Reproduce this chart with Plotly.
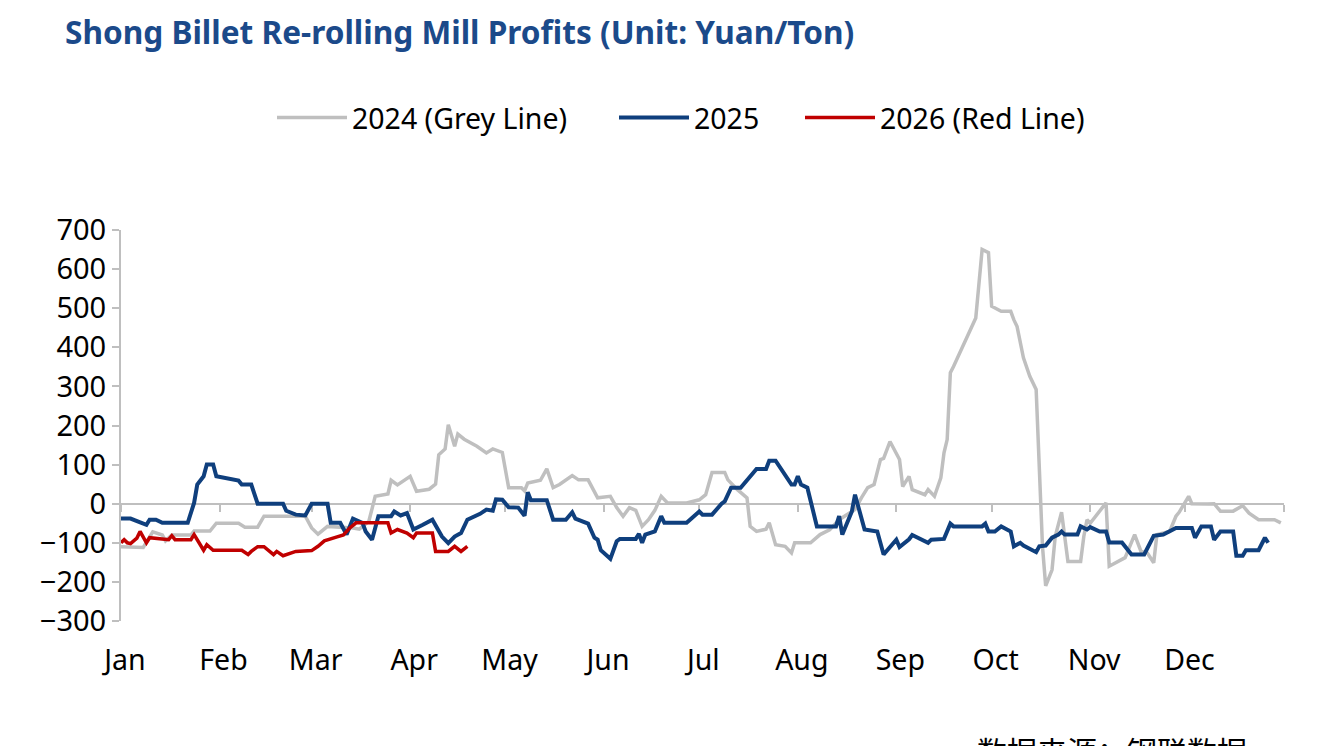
import pandas as pd
import plotly.graph_objects as go

# day offsets from Jan 1 and profits (yuan/ton)
days_2024 = [0, 7, 10, 13, 14, 16, 22, 23, 28, 30, 37, 39, 43, 45, 58, 60, 62, 65, 73, 75,
             78, 80, 84, 85, 87, 91, 93, 97, 99, 100, 102, 103, 105, 106, 108, 112, 115, 117, 120, 122,
             126, 127, 128, 132, 134, 136, 138, 142, 144, 147, 150, 154, 156, 158, 160, 162, 164, 166, 168, 170,
             172, 178, 182, 184, 186, 190, 191, 194, 197, 198, 200, 203, 204, 206, 209, 211, 212, 217, 220, 223,
             226, 229, 231, 233, 235, 237, 239, 240, 242, 245, 246, 248, 249, 253, 254, 256, 258, 259, 260, 261,
             262, 269, 271, 273, 274, 277, 280, 281, 282, 284, 286, 288, 289, 290, 291, 293, 294, 296, 298, 302,
             303, 304, 305, 310, 311, 316, 319, 321, 323, 325, 326, 330, 332, 333, 336, 337, 342, 344, 346, 350,
             353, 355, 358, 363, 365]
profit_2024 = [-110, -112, -72, -80, -95, -80, -80, -70, -70, -50, -50, -60, -60, -32, -32, -62, -78, -58, -62, -65,
               -45, 19, 25, 60, 48, 70, 32, 37, 50, 125, 140, 202, 147, 178, 165, 147, 130, 140, 131, 41,
               41, 33, 53, 60, 89, 41, 49, 72, 61, 61, 15, 19, -10, -32, -10, -17, -58, -41, -17, 19,
               2, 2, 10, 23, 80, 80, 61, 36, 15, -58, -71, -65, -49, -105, -109, -126, -100, -100, -79, -67,
               -41, -24, -15, 15, 41, 49, 113, 116, 159, 113, 44, 70, 36, 23, 36, 19, 66, 130, 164, 335,
               351, 475, 650, 642, 505, 492, 492, 470, 453, 373, 326, 292, 100, -110, -210, -169, -84, -22, -148, -148,
               -84, -41, -50, 2, -160, -138, -79, -122, -126, -151, -79, -71, -32, -22, 19, 0, -1, 0, -19, -19,
               -5, -24, -41, -41, -49]

days_2025 = [0, 3, 8, 9, 11, 13, 21, 23, 24, 26, 27, 29, 30, 33, 37, 38, 41, 43, 51, 52,
             55, 58, 60, 65, 66, 69, 71, 73, 76, 77, 79, 81, 85, 86, 88, 90, 92, 95, 98, 101,
             103, 105, 107, 109, 113, 115, 117, 118, 120, 122, 125, 127, 128, 129, 134, 136, 140, 142, 143, 147,
             149, 150, 151, 154, 156, 157, 162, 163, 164, 165, 168, 170, 171, 178, 182, 183, 186, 189, 190, 192,
             195, 200, 203, 204, 206, 211, 212, 213, 214, 216, 219, 225, 226, 227, 230, 231, 233, 234, 238, 240,
             244, 245, 248, 249, 254, 255, 259, 261, 262, 271, 272, 273, 275, 277, 280, 281, 283, 284, 288, 289,
             291, 293, 295, 296, 297, 301, 302, 304, 305, 308, 310, 311, 315, 318, 322, 325, 328, 330, 332, 337,
             338, 340, 343, 344, 346, 350, 351, 353, 354, 358, 360, 361]
profit_2025 = [-38, -38, -54, -41, -41, -49, -49, 2, 49, 70, 100, 100, 70, 66, 59, 49, 49, 0, 0, -18,
               -28, -30, 0, 0, -49, -49, -79, -38, -49, -71, -92, -32, -32, -20, -30, -24, -66, -54, -41, -84,
               -101, -84, -75, -41, -26, -15, -18, 11, 10, -9, -10, -31, 29, 9, 9, -41, -41, -22, -38, -51,
               -87, -92, -119, -141, -96, -90, -90, -77, -100, -79, -71, -32, -49, -49, -20, -28, -28, 0, 6, 41,
               41, 89, 89, 110, 110, 49, 49, 70, 49, 41, -58, -58, -32, -79, -20, 23, -32, -66, -71, -130,
               -92, -111, -91, -80, -100, -92, -90, -51, -58, -58, -51, -71, -71, -58, -71, -109, -100, -107, -124, -109,
               -107, -87, -79, -71, -79, -79, -58, -66, -60, -71, -71, -99, -99, -130, -130, -82, -79, -71, -62, -62,
               -87, -58, -58, -92, -71, -71, -133, -133, -119, -119, -87, -100]

days_2026 = [0, 1, 2, 3, 5, 6, 8, 9, 15, 16, 17, 22, 23, 25, 26, 27, 29, 38, 40, 41,
             43, 45, 48, 49, 51, 55, 60, 62, 64, 68, 70, 72, 74, 84, 85, 87, 90, 92, 93, 98,
             99, 103, 105, 107, 109]
profit_2026 = [-100, -92, -100, -102, -88, -71, -100, -87, -92, -82, -92, -92, -79, -105, -119, -105, -119, -119, -130, -122,
               -110, -110, -130, -122, -133, -122, -120, -109, -95, -85, -80, -62, -49, -49, -75, -66, -75, -87, -75, -75,
               -122, -122, -109, -122, -109]

months = ["Jan", "Feb", "Mar", "Apr", "May", "Jun", "Jul", "Aug", "Sep", "Oct", "Nov", "Dec"]

base = pd.Timestamp("2024-01-01")


def to_dates(days):
    return base + pd.to_timedelta(days, unit="D")


month_starts = pd.date_range("2024-01-01", periods=12, freq="MS")

W, H = 1326, 746

fig = go.Figure()
fig.add_trace(go.Scatter(x=to_dates(days_2024), y=profit_2024, mode="lines",
                         name="2024 (Grey Line)", line=dict(color="#BFBFBF", width=3.5),
                         legend="legend", showlegend=True))
fig.add_trace(go.Scatter(x=to_dates(days_2025), y=profit_2025, mode="lines",
                         name="2025", line=dict(color="#0F3F7D", width=4),
                         legend="legend2", showlegend=True))
fig.add_trace(go.Scatter(x=to_dates(days_2026), y=profit_2026, mode="lines",
                         name="2026 (Red Line)", line=dict(color="#C00000", width=3.5),
                         xaxis="x2", legend="legend3", showlegend=True))

leg = dict(orientation="h", xref="container", yref="container", xanchor="left",
           yanchor="middle", y=1 - 118 / H, font=dict(size=28.5), itemwidth=70,
           bgcolor="rgba(0,0,0,0)", visible=True)

fig.update_layout(
    width=W, height=H, showlegend=True,
    paper_bgcolor="white", plot_bgcolor="white",
    margin=dict(l=121, r=42, t=230, b=125),
    font=dict(family="Noto Sans", color="black"),
    title=dict(text="<b>Shong Billet Re-rolling Mill Profits (Unit: Yuan/Ton)</b>",
               x=65 / W, xanchor="left", y=1 - 33 / H, yanchor="middle",
               font=dict(size=31.6, color="#1B4A8A", family="Noto Sans")),
    legend=dict(leg, x=272 / W),
    legend2=dict(leg, x=614 / W),
    legend3=dict(leg, x=800 / W),
    xaxis=dict(type="date", range=["2024-01-01", "2025-01-01"],
               tickvals=month_starts, ticktext=months,
               showline=False, showgrid=False, zeroline=False,
               ticks="outside", ticklen=14, tickcolor="rgba(0,0,0,0)",
               ticklabelshift=4, tickfont=dict(size=28.5)),
    xaxis2=dict(type="date", overlaying="x", matches="x", anchor="free", position=0.3,
                side="bottom", showline=True, linecolor="#BFBFBF", linewidth=2,
                ticks="outside", ticklen=7, tickwidth=2, tickcolor="#BFBFBF",
                tick0="2024-01-01", dtick="M1", showticklabels=False,
                showgrid=False, zeroline=False, layer="below traces"),
    yaxis=dict(range=[-300, 700], tickvals=list(range(-300, 701, 100)),
               showline=True, linecolor="#BFBFBF", linewidth=2,
               ticks="outside", ticklen=7, tickwidth=2, tickcolor="#BFBFBF",
               showgrid=False, zeroline=False, tickfont=dict(size=29)),
    annotations=[dict(text="数据来源：钢联数据", xref="paper", yref="paper",
                      x=(975 - 121) / 1163, xanchor="left", y=-0.268, yanchor="top",
                      showarrow=False, font=dict(size=30, family="Noto Sans CJK SC", color="black"))],
)

fig.write_html("out.html", config={"displayModeBar": False},
               post_script="document.body.style.margin='0';")
